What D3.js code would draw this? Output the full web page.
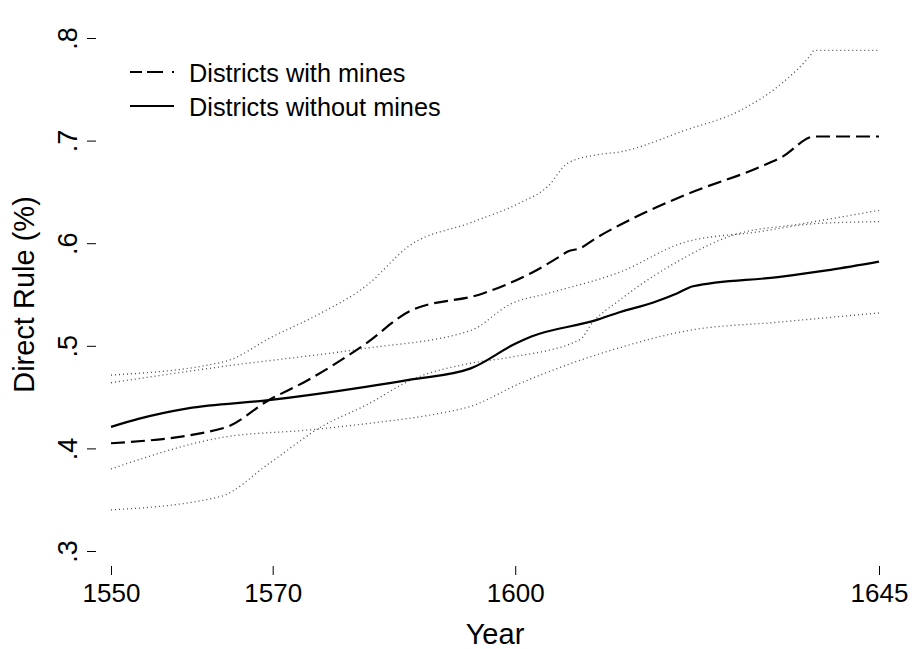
<!DOCTYPE html>
<html>
<head>
<meta charset="utf-8">
<script src="https://cdn.jsdelivr.net/npm/d3@7"></script>
<style>
  html, body { margin: 0; padding: 0; background: #fff; }
  svg { display: block; font-family: "Liberation Sans", Arial, Helvetica, sans-serif; }
</style>
</head>
<body>
<svg id="chart" width="912" height="649"></svg>
<script>
// Share of districts under direct rule, by year
const minesYears   = [1550, 1564, 1569.5, 1574, 1581.5, 1587, 1596, 1602, 1605.5, 1606.5, 1608, 1610, 1613, 1621, 1630.5, 1633, 1637, 1645];
const minesValues  = [0.405, 0.420, 0.447, 0.465, 0.502, 0.534, 0.551, 0.571, 0.587, 0.592, 0.595, 0.605, 0.618, 0.647, 0.675, 0.684, 0.704, 0.704];

const noMinesYears  = [1550, 1553.5, 1559.5, 1569.5, 1581.5, 1587, 1594.5, 1600, 1602, 1610, 1613, 1617, 1620, 1622, 1632.5, 1639, 1645];
const noMinesValues = [0.421, 0.429, 0.439, 0.447, 0.460, 0.467, 0.478, 0.502, 0.509, 0.525, 0.533, 0.542, 0.551, 0.558, 0.567, 0.574, 0.582];

// Confidence bands (upper / lower) for each group
const minesUpperYears  = [1550, 1564, 1570, 1576, 1581.5, 1587, 1594.5, 1600.5, 1604, 1606.5, 1610, 1613, 1621, 1628, 1633, 1636.5, 1637, 1645];
const minesUpperValues = [0.4715, 0.4845, 0.509, 0.532, 0.558, 0.598, 0.620, 0.639, 0.655, 0.678, 0.686, 0.689, 0.710, 0.730, 0.756, 0.783, 0.788, 0.788];

const minesLowerYears  = [1550, 1563.5, 1569.5, 1576, 1581.5, 1587.5, 1594.5, 1599.5, 1608, 1609.5, 1613, 1620.5, 1627, 1635.5, 1645];
const minesLowerValues = [0.340, 0.353, 0.385, 0.421, 0.442, 0.468, 0.483, 0.489, 0.506, 0.522, 0.545, 0.584, 0.608, 0.619, 0.632];

const noMinesUpperYears  = [1550, 1564, 1581, 1594.5, 1599.5, 1604, 1613, 1621, 1630, 1637, 1645];
const noMinesUpperValues = [0.464, 0.480, 0.497, 0.515, 0.541, 0.551, 0.572, 0.601, 0.611, 0.619, 0.621];

const noMinesLowerYears  = [1550, 1564, 1574.5, 1581.5, 1590.5, 1594.5, 1600.5, 1612, 1621.5, 1632.5, 1645];
const noMinesLowerValues = [0.380, 0.411, 0.418, 0.424, 0.434, 0.441, 0.463, 0.496, 0.515, 0.523, 0.532];

const xTickValues = [1550, 1570, 1600, 1645];
const yTickValues = [0.3, 0.4, 0.5, 0.6, 0.7, 0.8];
const legendLabels = ["Districts with mines", "Districts without mines"];

const svg = d3.select("#chart");

const x = d3.scaleLinear().domain([1550, 1645]).range([111, 879]);
const y = d3.scaleLinear().domain([0.3, 0.8]).range([551, 38]);

const zip = (xs, vs) => xs.map((yr, i) => ({ year: yr, value: vs[i] }));
const line = d3.line()
  .x(d => x(d.year))
  .y(d => y(d.value))
  .curve(d3.curveMonotoneX);

// Confidence bands: thin dotted
const bands = [
  zip(minesUpperYears, minesUpperValues),
  zip(minesLowerYears, minesLowerValues),
  zip(noMinesUpperYears, noMinesUpperValues),
  zip(noMinesLowerYears, noMinesLowerValues)
];
svg.append("g").selectAll("path")
  .data(bands)
  .join("path")
  .attr("d", line)
  .attr("fill", "none")
  .attr("stroke", "#4a4a4a")
  .attr("stroke-width", 1.3)
  .attr("stroke-dasharray", "1,3");

// Main estimates
svg.append("path")
  .datum(zip(noMinesYears, noMinesValues))
  .attr("d", line)
  .attr("fill", "none")
  .attr("stroke", "#000")
  .attr("stroke-width", 2.2);

svg.append("path")
  .datum(zip(minesYears, minesValues))
  .attr("d", line)
  .attr("fill", "none")
  .attr("stroke", "#000")
  .attr("stroke-width", 2.2)
  .attr("stroke-dasharray", "14,6");

// Y axis (no domain line, rotated labels)
const fmt = v => d3.format(".1f")(v).replace(/^0/, "");
const yAxis = svg.append("g")
  .attr("transform", "translate(96,0)")
  .call(d3.axisLeft(y).tickValues(yTickValues).tickSize(9).tickFormat(fmt));
yAxis.select(".domain").remove();
yAxis.selectAll(".tick line").attr("stroke", "#000").attr("stroke-width", 1);
yAxis.selectAll(".tick text")
  .attr("x", null).attr("dy", null)
  .attr("transform", "translate(-19,0) rotate(-90)")
  .attr("text-anchor", "middle")
  .attr("font-size", 27)
  .attr("font-family", "Liberation Sans, Arial, sans-serif")
  .attr("fill", "#000");

// X axis
const xAxis = svg.append("g")
  .attr("transform", "translate(0,566)")
  .call(d3.axisBottom(x).tickValues(xTickValues).tickSize(9).tickFormat(d3.format("d")));
xAxis.select(".domain").remove();
xAxis.selectAll(".tick line").attr("stroke", "#000").attr("stroke-width", 1);
xAxis.selectAll(".tick text")
  .attr("y", 36).attr("dy", null)
  .attr("font-size", 26)
  .attr("font-family", "Liberation Sans, Arial, sans-serif")
  .attr("fill", "#000");

// Axis titles
svg.append("text")
  .attr("x", 495).attr("y", 644)
  .attr("text-anchor", "middle")
  .attr("font-size", 29)
  .text("Year");

svg.append("text")
  .attr("transform", "translate(34,294.5) rotate(-90)")
  .attr("text-anchor", "middle")
  .attr("font-size", 29)
  .text("Direct Rule (%)");

// Legend
const legend = svg.append("g");
const legendRows = [
  { label: legendLabels[0], dash: "12,5,16,9,2" },
  { label: legendLabels[1], dash: null }
];
legendRows.forEach((r, i) => {
  const ly = 72 + i * 34;
  legend.append("line")
    .attr("x1", 130).attr("x2", 174)
    .attr("y1", ly).attr("y2", ly)
    .attr("stroke", "#000")
    .attr("stroke-width", 2)
    .attr("stroke-dasharray", r.dash);
  legend.append("text")
    .attr("x", 189).attr("y", ly + 9.5)
    .attr("font-size", 25.3)
    .text(r.label);
});
</script>
</body>
</html>
